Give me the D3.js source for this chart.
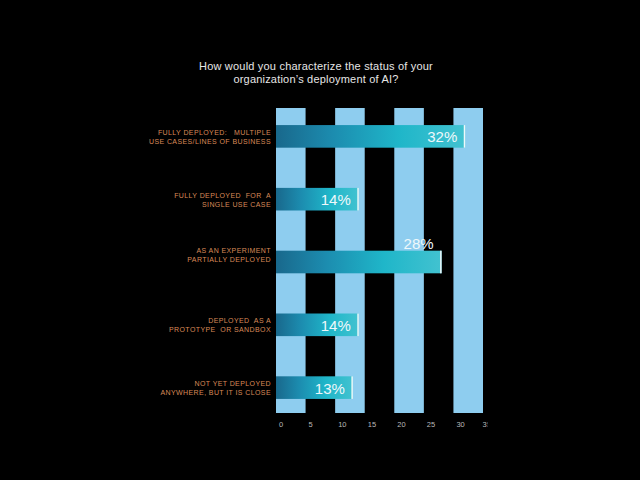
<!DOCTYPE html>
<html>
<head>
<meta charset="utf-8">
<script src="https://cdn.jsdelivr.net/npm/d3@7"></script>
<style>
  html, body { margin: 0; padding: 0; background: #000; }
  text { font-family: "Liberation Sans", Arial, sans-serif; }
</style>
</head>
<body>
<div id="my_dataviz"></div>
<script>
// chart data
var titleLines = ["How would you characterize the status of your", "organization\u2019s deployment of AI?"];
var categories = [
  ["FULLY DEPLOYED:   MULTIPLE", "USE CASES/LINES OF BUSINESS"],
  ["FULLY DEPLOYED  FOR  A", "SINGLE USE CASE"],
  ["AS AN EXPERIMENT", "PARTIALLY DEPLOYED"],
  ["DEPLOYED  AS A", "PROTOTYPE  OR SANDBOX"],
  ["NOT YET DEPLOYED", "ANYWHERE, BUT IT IS CLOSE"]
];
var values = [32, 14, 28, 14, 13];
var xTicks = [0, 5, 10, 15, 20, 25, 30, 35];

var width = 640, height = 480;

var svg = d3.select("#my_dataviz")
  .append("svg")
    .attr("width", width)
    .attr("height", height)
    .style("display", "block")
    .style("background", "#000");

// scales
var x = d3.scaleLinear()
  .domain([0, 35])
  .range([276, 483]);

var y = d3.scaleBand()
  .domain(d3.range(categories.length))
  .range([110, 414])
  .paddingInner(0.64)
  .paddingOuter(0.24);

// gradient for the bars
var defs = svg.append("defs");
var grad = defs.append("linearGradient")
  .attr("id", "barGrad")
  .attr("x1", "0%").attr("x2", "100%")
  .attr("y1", "0%").attr("y2", "0%");
grad.append("stop").attr("offset", "0%").attr("stop-color", "#19688c");
grad.append("stop").attr("offset", "30%").attr("stop-color", "#1c8caf");
grad.append("stop").attr("offset", "65%").attr("stop-color", "#1fb6c9");
grad.append("stop").attr("offset", "100%").attr("stop-color", "#42c2d0");

defs.append("clipPath").attr("id", "plotClip")
  .append("rect")
    .attr("x", 0).attr("y", 0)
    .attr("width", 487.5).attr("height", height);

// light blue stripes every other 5 units
var stripes = xTicks.filter(function(d, i) { return i % 2 === 0; });
svg.append("g")
  .selectAll("rect")
  .data(stripes)
  .enter()
  .append("rect")
    .attr("x", function(d) { return x(d); })
    .attr("y", 108)
    .attr("width", function(d) { return x(d + 5) - x(d); })
    .attr("height", 305)
    .style("fill", "#8ecdef");

// title
svg.append("text")
  .attr("x", 316)
  .attr("y", 70)
  .attr("text-anchor", "middle")
  .style("font-size", "11px")
  .style("fill", "#e6e6e6")
  .style("letter-spacing", "0.2px")
  .selectAll("tspan")
  .data(titleLines)
  .enter()
  .append("tspan")
    .attr("x", 316)
    .attr("dy", function(d, i) { return i === 0 ? 0 : 13; })
    .text(function(d) { return d; });

// bars
var bar = svg.append("g")
  .selectAll("g")
  .data(values)
  .enter()
  .append("g");

bar.append("rect")
  .attr("x", x(0))
  .attr("y", function(d, i) { return y(i); })
  .attr("width", function(d) { return x(d) - x(0); })
  .attr("height", y.bandwidth())
  .style("fill", "url(#barGrad)");

// thin light edge at bar end
bar.append("rect")
  .attr("x", function(d) { return x(d) - 1.5; })
  .attr("y", function(d, i) { return y(i); })
  .attr("width", 1.5)
  .attr("height", y.bandwidth())
  .style("fill", "#eef8fb");

// value labels (the 28% one sits above its bar in the original)
bar.append("text")
  .attr("x", function(d) { return x(d) - 8; })
  .attr("y", function(d, i) {
    var c = y(i) + y.bandwidth() / 2;
    return i === 2 ? c - 13.5 : c + 6;
  })
  .attr("text-anchor", "end")
  .style("font-size", "15px")
  .style("fill", "#eef8fb")
  .text(function(d) { return d + "%"; });

// category labels
var labels = svg.append("g")
  .selectAll("text")
  .data(categories)
  .enter()
  .append("text")
    .attr("text-anchor", "end")
    .style("font-size", "7px")
    .style("fill", "#d98a58")
    .style("letter-spacing", "0.4px")
    .attr("transform", function(d, i) {
      var c = y(i) + y.bandwidth() / 2;
      return "translate(271," + (i === 2 ? c - 9.5 : c - 1.5) + ")";
    });

labels.selectAll("tspan")
  .data(function(d) { return d; })
  .enter()
  .append("tspan")
    .attr("x", 0)
    .attr("y", function(d, i) { return i * 9.2; })
    .attr("xml:space", "preserve")
    .style("white-space", "pre")
    .text(function(d) { return d; });

// x axis
var xAxis = svg.append("g")
  .attr("clip-path", "url(#plotClip)")
  .attr("transform", "translate(0,413)")
  .call(d3.axisBottom(x).tickValues(xTicks).tickSize(0).tickPadding(9));

xAxis.select(".domain").remove();
xAxis.selectAll("text")
  .attr("dx", function(d) { return d === 35 ? -1 : 2.5; })
  .attr("text-anchor", "start")
  .style("font-size", "7.5px")
  .style("font-family", "'Liberation Sans', Arial, sans-serif")
  .style("fill", "#b9b9b9");
</script>
</body>
</html>
